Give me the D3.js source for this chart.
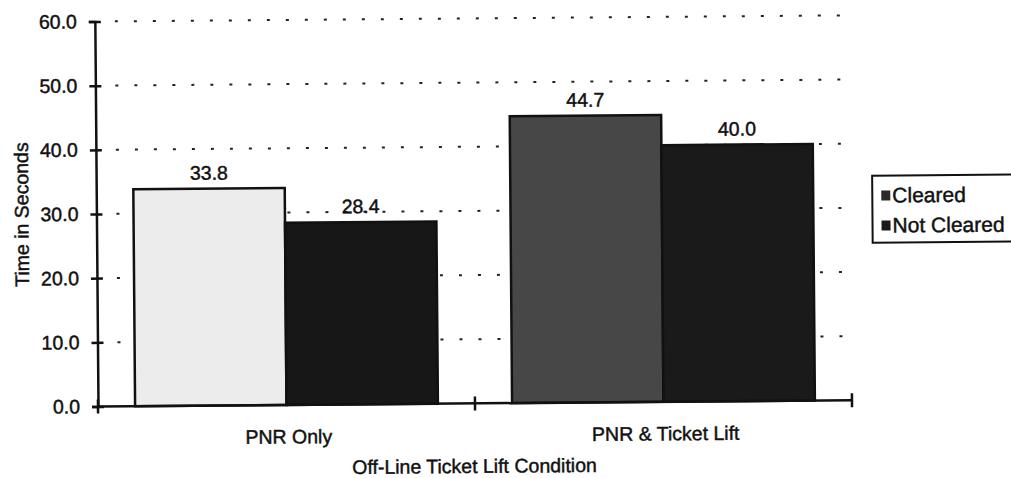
<!DOCTYPE html>
<meta charset="utf-8">
<script src="https://d3js.org/d3.v7.min.js"></script>
<style>
  body { margin: 0; background: #fff; }
  text { font-family: "Liberation Sans", Arial, sans-serif; fill: #111; stroke: #111; stroke-width: 0.45px; }
</style>
<body>
<div id="chart"></div>
<script>

// data
var categories = ["PNR Only", "PNR & Ticket Lift"];
var seriesNames = ["Cleared", "Not Cleared"];
var cleared = [33.8, 44.7];
var notCleared = [28.4, 40.0];
var yTicks = [0, 10, 20, 30, 40, 50, 60];
var yTitle = "Time in Seconds";
var xTitle = "Off-Line Ticket Lift Condition";

// the scan made each bar a different shade, so fill per category
var fills = {
  "Cleared": ["#ececec", "#474747"],
  "Not Cleared": ["#171717", "#1a1a1a"]
};
var swatch = { "Cleared": "#2a2a2a", "Not Cleared": "#1a1a1a" };

var W = 1011, H = 478;
var plotLeft = 98, plotRight = 852, plotTop = 21.5, plotBottom = 406.5;
var fs = "19.5px";

var svg = d3.select("#chart").append("svg")
  .attr("width", W)
  .attr("height", H);

// the scanned page is slightly tilted
var g = svg.append("g")
  .attr("transform", "rotate(-0.47," + plotLeft + "," + plotBottom + ")");

var rows = categories.map(function(c, i) {
  return { cat: c, i: i, values: [
    { name: "Cleared", value: cleared[i] },
    { name: "Not Cleared", value: notCleared[i] }
  ] };
});

var x0 = d3.scaleBand().domain(categories).range([plotLeft, plotRight]).paddingInner(0).paddingOuter(0);
var x1 = d3.scaleBand().domain(seriesNames).range([0, x0.bandwidth()]).paddingInner(0).paddingOuter(0.245);
var y = d3.scaleLinear().domain([0, 60]).range([plotBottom, plotTop]);

// dotted gridlines
g.append("g")
  .selectAll("line")
  .data(yTicks.slice(1))
  .enter().append("line")
  .attr("x1", plotLeft + 20)
  .attr("x2", plotRight)
  .attr("y1", function(d) { return y(d); })
  .attr("y2", function(d) { return y(d); })
  .attr("stroke", "#222")
  .attr("stroke-width", 2)
  .attr("stroke-dasharray", "3,16");

// bars
var groups = g.append("g")
  .selectAll("g")
  .data(rows)
  .enter().append("g")
  .attr("transform", function(d) { return "translate(" + x0(d.cat) + ",0)"; });

groups.selectAll("rect")
  .data(function(d) { return d.values.map(function(v) { return { name: v.name, value: v.value, i: d.i }; }); })
  .enter().append("rect")
  .attr("x", function(d) { return x1(d.name); })
  .attr("width", x1.bandwidth())
  .attr("y", function(d) { return y(d.value); })
  .attr("height", function(d) { return y(0) - y(d.value); })
  .attr("fill", function(d) { return fills[d.name][d.i]; })
  .attr("stroke", "#111")
  .attr("stroke-width", 2.5);

// value labels
groups.selectAll("text")
  .data(function(d) { return d.values; })
  .enter().append("text")
  .attr("x", function(d) { return x1(d.name) + x1.bandwidth() / 2; })
  .attr("y", function(d) { return y(d.value) - 9; })
  .attr("text-anchor", "middle")
  .style("font-size", fs)
  .text(function(d) { return d3.format(".1f")(d.value); });

// y axis
var yAxis = g.append("g")
  .attr("transform", "translate(" + plotLeft + ",0)")
  .call(d3.axisLeft(y).tickValues(yTicks).tickFormat(d3.format(".1f")).tickSize(6).tickPadding(12));
yAxis.select(".domain").attr("stroke", "#111").attr("stroke-width", 2.5);
yAxis.selectAll(".tick line").attr("x1", 6).attr("x2", -6).attr("stroke", "#111").attr("stroke-width", 2.5);
yAxis.selectAll(".tick text")
  .attr("fill", "#111")
  .attr("font-size", null)
  .attr("font-family", null)
  .style("font-size", fs);

// x axis line and ticks at band edges
var xEdges = categories.map(function(c) { return x0(c); }).concat([plotRight]);
g.append("line")
  .attr("x1", plotLeft).attr("x2", plotRight)
  .attr("y1", plotBottom).attr("y2", plotBottom)
  .attr("stroke", "#111").attr("stroke-width", 2.5);
g.append("g")
  .selectAll("line")
  .data(xEdges)
  .enter().append("line")
  .attr("x1", function(d) { return d; })
  .attr("x2", function(d) { return d; })
  .attr("y1", plotBottom - 7)
  .attr("y2", plotBottom + 7)
  .attr("stroke", "#111")
  .attr("stroke-width", 2.5);

// category labels
g.append("g")
  .selectAll("text")
  .data(categories)
  .enter().append("text")
  .attr("x", function(d) { return x0(d) + x0.bandwidth() / 2 + 2; })
  .attr("y", 445)
  .attr("text-anchor", "middle")
  .style("font-size", fs)
  .text(function(d) { return d; });

// axis titles
g.append("text")
  .attr("x", 474)
  .attr("y", 476)
  .attr("text-anchor", "middle")
  .style("font-size", fs)
  .text(xTitle);

g.append("text")
  .attr("transform", "translate(30,214) rotate(-90)")
  .attr("text-anchor", "middle")
  .style("font-size", fs)
  .text(yTitle);

// legend
var lg = g.append("g").attr("transform", "translate(874,182)");
lg.append("rect")
  .attr("width", 150).attr("height", 67)
  .attr("fill", "#fff").attr("stroke", "#111").attr("stroke-width", 2);
var items = lg.selectAll("g.item")
  .data(seriesNames)
  .enter().append("g")
  .attr("class", "item")
  .attr("transform", function(d, i) { return "translate(9," + (20 + i * 30) + ")"; });
items.append("rect")
  .attr("x", 0).attr("y", -5)
  .attr("width", 9).attr("height", 10)
  .attr("fill", function(d) { return swatch[d]; });
items.append("text")
  .attr("x", 11)
  .attr("y", 7)
  .style("font-size", "21px")
  .text(function(d) { return d; });

</script>
</body>
